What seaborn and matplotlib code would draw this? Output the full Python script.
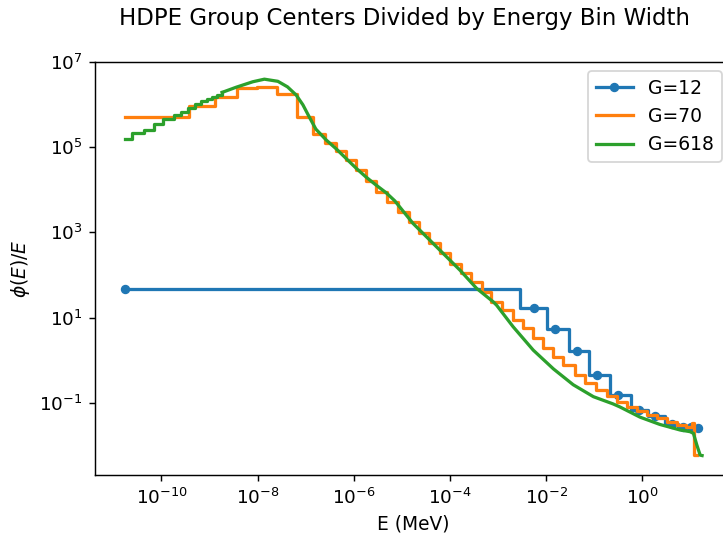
import numpy as np
import matplotlib
matplotlib.use("Agg")
import matplotlib.pyplot as plt
import matplotlib.ticker as mticker
import seaborn as sns

# ---------------- data (log10 values) ----------------
# G=12: group centres (log10 E [MeV]) and phi(E)/E (log10)
g12_log_E = [-10.76, -2.249, -1.819, -1.368, -0.940, -0.509, -0.079,
             0.260, 0.607, 0.848, 1.008, 1.154]
g12_log_phi = [1.673, 1.221, 0.743, 0.227, -0.349, -0.811, -1.156,
               -1.303, -1.491, -1.554, -1.561, -1.578]

# G=70: group lower edges (log10 E) and values (log10)
g70_log_edge = [-10.76, -9.43, -8.89, -8.44, -8.02, -7.60, -7.18, -6.84, -6.60,
                -6.37, -6.16, -5.96, -5.75, -5.53, -5.31, -5.08, -4.86, -4.65,
                -4.43, -4.21, -4.00, -3.78, -3.56, -3.34, -3.14, -2.91, -2.69,
                -2.48, -2.27, -2.06, -1.85, -1.65, -1.41, -1.20, -0.96, -0.74,
                -0.53, -0.32, -0.11, 0.09, 0.30, 0.51, 0.72, 0.90, 1.02, 1.07,
                1.13]
g70_log_phi = [5.71, 5.95, 6.18, 6.38, 6.41, 6.24, 5.71, 5.30, 5.09, 4.91, 4.70,
               4.46, 4.21, 3.95, 3.72, 3.48, 3.25, 2.98, 2.74, 2.51, 2.26, 2.04,
               1.84, 1.61, 1.38, 1.18, 0.95, 0.75, 0.52, 0.28, 0.08, -0.11,
               -0.34, -0.53, -0.69, -0.83, -0.98, -1.09, -1.19, -1.27, -1.35,
               -1.44, -1.51, -1.56, -1.46, -2.22, -2.22]

# G=618: coarse low-energy groups (lower edges) ...
g618_low_log_edge = [-10.76, -10.62, -10.37, -10.15, -9.97, -9.74, -9.59,
                     -9.45, -9.30, -9.18, -9.06, -8.95, -8.85, -8.74]
g618_low_log_phi = [5.18, 5.32, 5.40, 5.53, 5.65, 5.75, 5.83, 5.91, 6.00,
                    6.07, 6.13, 6.18, 6.23, 6.28]
# ... and the fine-group region (appears as a smooth curve)
g618_log_E = [-8.74, -8.45, -8.10, -7.86, -7.58, -7.38, -7.20, -7.06, -6.93,
              -6.79, -6.58, -6.36, -6.16, -5.94, -5.75, -5.54, -5.33, -5.15,
              -4.77, -4.28, -3.79, -3.45, -3.10, -3.03, -2.69, -2.27, -1.85,
              -1.44, -1.02, -0.61, -0.47, -0.05, 0.36, 0.78, 0.99, 1.06, 1.13,
              1.20, 1.24]
g618_log_phi = [6.28, 6.40, 6.53, 6.59, 6.54, 6.41, 6.22, 5.99, 5.71, 5.42,
                5.17, 4.95, 4.73, 4.49, 4.30, 4.11, 3.93, 3.74, 3.21, 2.66,
                2.11, 1.69, 1.37, 1.29, 0.79, 0.24, -0.20, -0.57, -0.85, -1.02,
                -1.09, -1.33, -1.50, -1.63, -1.67, -1.71, -1.98, -2.22, -2.23]

labels = ["G=12", "G=70", "G=618"]
colors = ["#1f77b4", "#ff7f0e", "#2ca02c"]


def p10(v):
    return np.power(10.0, np.asarray(v, dtype=float))


# ---------------- figure ----------------
DPI = 130
LW = 1.8
fig = plt.figure(figsize=(723 / DPI, 535 / DPI), dpi=DPI)
ax = fig.add_axes([0.1318, 0.1121, 1.011 - 0.1318, 0.8847 - 0.1121])
ax.set_xscale("log")
ax.set_yscale("log")

sns.lineplot(x=p10(g12_log_E), y=p10(g12_log_phi), ax=ax, color=colors[0],
             drawstyle="steps-mid", marker="o", markersize=4.4,
             markeredgecolor=colors[0], markeredgewidth=0.8,
             linewidth=LW, errorbar=None, sort=False, label=labels[0])
sns.lineplot(x=p10(g70_log_edge), y=p10(g70_log_phi), ax=ax, color=colors[1],
             drawstyle="steps-post", linewidth=LW, errorbar=None, sort=False,
             label=labels[1])
sns.lineplot(x=p10(g618_low_log_edge), y=p10(g618_low_log_phi), ax=ax,
             color=colors[2], drawstyle="steps-post", linewidth=LW,
             errorbar=None, sort=False, label=labels[2])
sns.lineplot(x=p10(g618_log_E), y=p10(g618_log_phi), ax=ax, color=colors[2],
             linewidth=LW, errorbar=None, sort=False)

ax.set_xlim(10 ** -11.376, 10 ** 1.84)
ax.set_ylim(10 ** -2.686, 10 ** 7.0)
ax.xaxis.set_major_locator(mticker.FixedLocator(10.0 ** np.arange(-10, 1, 2)))
ax.yaxis.set_major_locator(mticker.FixedLocator(10.0 ** np.arange(-1, 8, 2)))
ax.xaxis.set_minor_locator(mticker.NullLocator())
ax.yaxis.set_minor_locator(mticker.NullLocator())
ax.xaxis.set_major_formatter(mticker.LogFormatterSciNotation())
ax.yaxis.set_major_formatter(mticker.LogFormatterSciNotation())
ax.tick_params(labelsize=10.2)

ax.set_title("HDPE Group Centers Divided by Energy Bin Width",
             fontsize=12.7, x=0.486, pad=20.5)
ax.set_xlabel("E (MeV)", fontsize=10.3)
ax.set_ylabel(r"$\phi(E)/E$", fontsize=10.3)

handles, labs = ax.get_legend_handles_labels()
ax.legend(handles, labs, loc="upper right", fontsize=10.4)

fig.savefig("out.png", dpi=DPI)
